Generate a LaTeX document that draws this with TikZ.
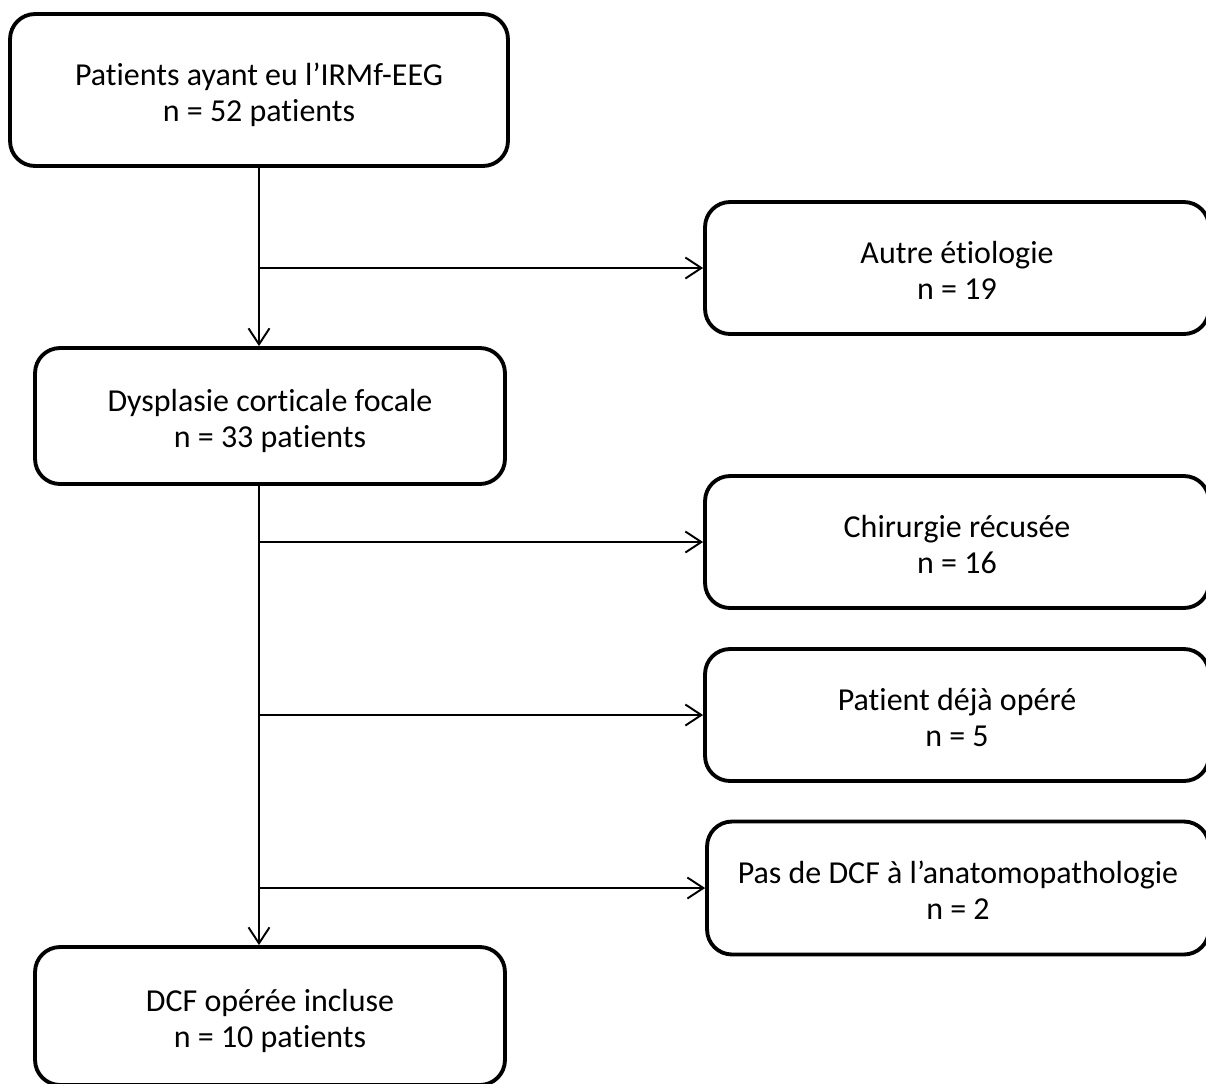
\documentclass[tikz,border=0pt]{standalone}
\usepackage{fontspec}
\setmainfont{Carlito}[Ligatures=NoCommon]
\usetikzlibrary{arrows.meta}

\tikzset{
  boite/.style={draw, line width=2.2pt, rounded corners=0.5cm, align=center,
    font=\fontsize{18.2}{20.7}\selectfont, inner sep=0pt,
    text height=35.9pt, text depth=0pt},
  fleche/.style={line width=1.1pt, -{Straight Barb[length=0.32cm,width=0.42cm,line width=1.1pt]}}
}

\begin{document}
\begin{tikzpicture}[x=0.02cm, y=-0.02cm]
  \useasboundingbox (0,0) rectangle (1206,1083);
  \node[boite, minimum width=9.96cm, minimum height=3.04cm] (irmf) at (259,90) {Patients ayant eu l’IRMf-EEG\\n = 52 patients};
  \node[boite, minimum width=10.08cm, minimum height=2.64cm] (autre) at (957,268) {Autre étiologie\\n = 19};
  \node[boite, minimum width=9.4cm, minimum height=2.72cm] (dcf) at (270,416) {Dysplasie corticale focale\\n = 33 patients};
  \node[boite, minimum width=10.08cm, minimum height=2.64cm] (chir) at (957,542) {Chirurgie récusée\\n = 16};
  \node[boite, minimum width=10.08cm, minimum height=2.64cm] (opere) at (957,715) {Patient déjà opéré\\n = 5};
  \node[boite, minimum width=10.04cm, minimum height=2.66cm] (anapath) at (958,888) {Pas de DCF à l’anatomopathologie\\n = 2};
  \node[boite, minimum width=9.4cm, minimum height=2.76cm] (incl) at (270,1016) {DCF opérée incluse\\n = 10 patients};

  \draw[fleche] (irmf.south) -- (irmf.south |- dcf.north);
  \draw[fleche] (irmf.south |- autre.west) -- (autre.west);
  \draw[fleche] (irmf.south |- dcf.south) -- (irmf.south |- incl.north);
  \draw[fleche] (irmf.south |- chir.west) -- (chir.west);
  \draw[fleche] (irmf.south |- opere.west) -- (opere.west);
  \draw[fleche] (irmf.south |- anapath.west) -- (anapath.west);
\end{tikzpicture}
\end{document}
